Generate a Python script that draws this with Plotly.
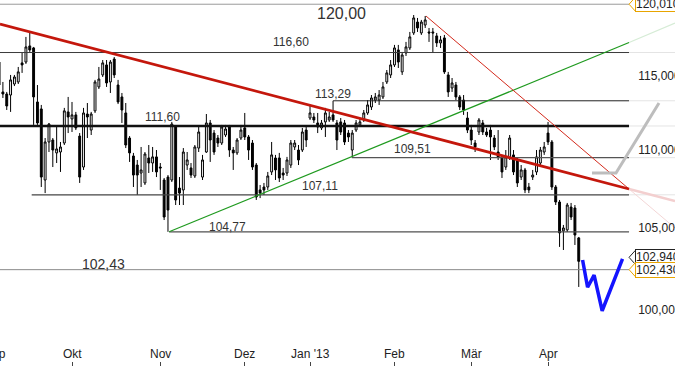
import numpy as np
import pandas as pd
import plotly.graph_objects as go

# ---------------- data ----------------
holidays = ["2012-12-24", "2012-12-25", "2012-12-26", "2012-12-31",
            "2013-01-01", "2013-03-29", "2013-04-01"]
calendar = pd.bdate_range("2012-09-03", "2013-05-31", freq="C", holidays=holidays)

opens = [115.94, 113.89, 113.75, 113.68, 114.43, 114.57, 115.88, 115.94, 117.06, 116.92,
         113.21, 112.74, 108.06, 110.54, 110.67, 109.82, 109.88, 110.47, 112.54, 112.07,
         112.34, 110.93, 108.90, 112.40, 111.33, 112.61, 114.23, 115.05, 115.74, 114.57,
         116.15, 114.36, 113.55, 112.47, 110.80, 109.62, 109.03, 108.51, 107.87, 109.49,
         109.16, 109.56, 108.90, 108.06, 108.25, 108.06, 111.53, 107.54, 107.42, 109.03,
         108.84, 108.32, 110.14, 108.25, 109.88, 111.80, 111.13, 110.80, 110.47, 111.00,
         111.53, 110.01, 109.82, 110.80, 111.47, 110.87, 110.47, 109.03, 107.42, 107.61,
         107.61, 108.58, 109.49, 109.49, 108.51, 108.51, 109.03, 110.21, 110.01, 110.01,
         111.33, 112.13, 112.20, 111.80, 111.47, 111.87, 112.00, 112.34, 111.80, 111.87,
         111.80, 111.13, 110.01, 111.33, 111.67, 112.00, 112.47, 112.87, 113.34, 113.34,
         113.55, 114.57, 115.05, 115.74, 116.78, 115.26, 116.57, 116.92, 117.97, 118.74,
         117.97, 118.53, 118.04, 118.04, 117.76, 117.27, 117.62, 115.05, 114.16, 114.36,
         113.55, 113.34, 112.13, 111.33, 110.47, 111.20, 111.80, 111.20, 111.33, 110.80,
         109.88, 109.49, 108.90, 109.49, 109.69, 109.36, 108.25, 108.71, 107.61, 108.25,
         108.58, 109.16, 109.88, 111.13, 110.54, 107.61, 106.65, 104.83, 104.89, 106.33,
         106.27, 104.39]
highs = [116.43, 114.57, 113.89, 115.05, 115.05, 115.60, 116.57, 117.69, 117.97, 116.99,
         114.36, 113.01, 110.80, 111.80, 110.80, 111.53, 110.54, 112.81, 113.55, 113.21,
         112.54, 111.13, 112.81, 113.14, 112.54, 114.71, 115.60, 116.08, 116.08, 116.08,
         116.29, 114.71, 113.82, 113.14, 110.93, 109.82, 109.36, 110.21, 109.88, 110.34,
         110.21, 110.01, 109.16, 108.19, 108.38, 111.87, 111.60, 108.25, 110.14, 109.88,
         109.16, 110.34, 111.53, 109.69, 112.40, 112.00, 111.33, 111.00, 111.67, 111.67,
         111.67, 110.21, 110.80, 111.67, 112.47, 111.00, 110.67, 109.16, 107.74, 107.87,
         108.58, 110.54, 109.69, 109.82, 108.84, 109.56, 110.67, 110.67, 110.34, 111.47,
         111.53, 113.01, 112.47, 112.47, 112.00, 112.81, 112.54, 113.29, 112.00, 112.13,
         112.00, 111.33, 111.33, 112.00, 112.13, 112.67, 113.34, 113.68, 113.82, 114.02,
         114.57, 115.39, 116.08, 117.13, 117.13, 116.64, 117.34, 118.04, 119.24, 119.03,
         118.89, 119.17, 118.32, 118.32, 117.97, 117.76, 117.83, 115.26, 114.84, 114.57,
         113.68, 113.68, 112.54, 111.67, 110.67, 112.13, 112.00, 111.47, 111.67, 111.00,
         111.33, 109.69, 110.01, 111.00, 110.01, 109.49, 109.03, 108.84, 107.87, 108.71,
         110.01, 110.21, 110.54, 111.87, 110.67, 107.74, 106.78, 105.20, 106.59, 106.59,
         106.46, 104.45]
lows = [114.16, 113.48, 112.67, 112.54, 114.29, 114.43, 115.19, 115.81, 116.64, 111.67,
        111.67, 107.61, 107.22, 109.88, 108.90, 109.16, 108.58, 110.34, 111.13, 111.20,
        111.33, 107.87, 108.71, 110.80, 111.00, 112.47, 114.09, 114.91, 114.23, 113.82,
        114.84, 113.07, 111.80, 110.14, 109.23, 107.61, 107.10, 107.61, 107.74, 108.51,
        108.58, 108.25, 107.42, 105.51, 104.77, 107.93, 106.46, 106.46, 106.46, 108.71,
        108.19, 108.19, 109.88, 108.06, 109.82, 109.23, 109.69, 110.21, 110.34, 110.87,
        109.56, 108.71, 109.69, 110.67, 110.67, 109.36, 108.71, 106.78, 106.90, 107.10,
        107.42, 108.38, 108.06, 107.93, 108.06, 108.32, 108.84, 110.01, 109.03, 109.88,
        110.21, 112.00, 111.80, 111.13, 111.33, 110.87, 111.87, 111.87, 110.01, 111.00,
        110.34, 110.54, 109.51, 111.20, 111.53, 111.87, 112.34, 112.67, 113.14, 113.01,
        113.41, 114.43, 114.84, 115.60, 115.53, 115.05, 116.36, 116.78, 117.83, 118.04,
        117.83, 118.32, 117.34, 116.57, 116.99, 116.92, 115.12, 113.55, 113.89, 113.34,
        112.67, 112.34, 111.13, 110.34, 109.88, 111.00, 111.00, 110.87, 109.36, 110.01,
        109.36, 108.19, 108.71, 109.36, 108.38, 107.61, 108.06, 107.22, 107.22, 108.06,
        108.38, 109.03, 109.69, 110.34, 107.42, 106.46, 103.83, 103.64, 104.76, 105.51,
        103.95, 101.38]
closes = [114.36, 113.75, 112.94, 114.71, 114.91, 115.26, 115.74, 116.99, 116.78, 113.55,
          111.80, 108.25, 110.54, 111.73, 110.01, 110.08, 110.21, 112.61, 112.20, 112.34,
          111.47, 108.25, 112.47, 112.20, 112.40, 114.57, 114.77, 115.88, 114.50, 115.94,
          115.05, 113.21, 112.67, 110.34, 109.82, 108.38, 108.38, 108.71, 109.75, 109.16,
          109.56, 108.58, 108.84, 105.70, 106.14, 111.73, 106.78, 107.22, 109.88, 109.36,
          108.38, 110.21, 111.20, 109.36, 111.80, 110.67, 109.88, 110.47, 111.53, 111.40,
          110.01, 109.82, 110.67, 111.33, 110.87, 110.01, 108.90, 106.97, 107.22, 107.42,
          108.32, 109.69, 108.71, 108.19, 108.38, 109.36, 110.47, 110.47, 109.36, 111.20,
          110.67, 112.47, 112.00, 111.53, 111.80, 112.47, 112.20, 112.00, 110.67, 111.20,
          110.54, 110.87, 111.13, 111.80, 111.87, 112.47, 113.01, 113.48, 113.55, 113.68,
          114.23, 115.19, 115.74, 116.92, 115.94, 116.43, 116.99, 117.69, 119.03, 118.32,
          118.74, 118.89, 117.97, 117.97, 117.27, 117.48, 115.26, 113.89, 114.50, 113.55,
          112.87, 112.67, 111.33, 110.67, 110.21, 112.00, 111.20, 111.00, 110.87, 110.21,
          109.56, 108.58, 109.56, 110.80, 108.58, 107.87, 108.71, 107.42, 107.42, 108.38,
          109.56, 110.01, 110.21, 110.54, 107.61, 106.65, 104.70, 105.01, 106.46, 105.70,
          104.57, 102.94]

month_labels = ["Sep", "Okt", "Nov", "Dez", "Jan '13", "Feb", "Mär", "Apr"]
ytick_values = [100, 105, 110, 115]

# horizontal support / resistance levels (price, start position in trading days)
levels = [120.01, 116.60, 113.29, 111.60, 109.51, 107.11, 104.77, 102.43]
level_start = [None, None, 88.0, None, 92.9, 9.5, 45.3, None]
level_text = ["", "116,60", "113,29", "111,60", "109,51", "107,11", "104,77", "102,43"]
level_text_x = [None, 77.1, 88.0, 43.7, 108.6, 84.6, 60.4, 28.1]

# trend lines: (x0, p0, x1, p1) in trading-day positions / prices
trend_main_red = [1.245, 118.60, 165.1, 107.48]
trend_thin_red = [112.2, 119.17, 165.1, 107.48]
trend_green = [45.3, 104.77, 165.1, 117.30]
ext_main_red = 106.71
ext_thin_red = 105.01
ext_green = 118.67

# projections
proj_blue_x = [153.0, 154.3, 156.0, 158.1, 163.4]
proj_blue_y = [103.02, 101.36, 102.10, 99.95, 103.09]
proj_grey_x = [155.45, 161.7, 172.9]
proj_grey_y = [108.51, 108.51, 113.14]

# price tags on the right
tags = [(102.94, "102,940", "#222222", 4), (102.43, "102,430", "#e8a400", 0),
        (120.01, "120,010", "#e8a400", 0)]

# ---------------- layout constants ----------------
n = len(opens)
xpos = list(range(1, n + 1))          # calendar position (Sep 3 2012 = 0)
cal_pos = pd.Series(range(len(calendar)), index=calendar)
month_pos = cal_pos.groupby([calendar.year, calendar.month]).first().values[:len(month_labels)]

W, H = 675, 370
MB = 9
PLOT_H = H - MB
X0, X1 = 1.245, 177.07
Y0, Y1 = 1.98676, 2.08031
LINE_END = 165.1
PX_PER_LN = PLOT_H / ((Y1 - Y0) * np.log(10))
PX_PER_DAY = W / (X1 - X0)
FONT = "Liberation Sans, Arial, sans-serif"

fig = go.Figure()


def line(xs, ys, color, width, dash=None):
    fig.add_trace(go.Scatter(x=xs, y=ys, mode="lines",
                             line=dict(color=color, width=width, dash=dash),
                             hoverinfo="skip", showlegend=False))


level_colors = ["#9a9a9a", "#3a3a3a", "#222222", "#111111", "#555555", "#444444", "#505050", "#8a8a8a"]
level_widths = [1, 1, 1, 2.6, 1.2, 1.2, 1.3, 1]
for p, xs, col, w in zip(levels, level_start, level_colors, level_widths):
    line([X0 if xs is None else xs, LINE_END], [p, p], col, w)
for p in [116.60, 113.29, 111.60, 109.51, 107.11]:
    line([LINE_END, X1], [p, p], "#e4e4e4", 1)

fig.add_trace(go.Candlestick(
    x=xpos, open=opens, high=highs, low=lows, close=closes,
    increasing=dict(line=dict(color="black", width=1), fillcolor="white"),
    decreasing=dict(line=dict(color="black", width=1), fillcolor="black"),
    whiskerwidth=0, showlegend=False, hoverinfo="skip"))

# trend lines and faded continuations
line([trend_main_red[2], X1], [trend_main_red[3], ext_main_red], "#f3cfcf", 2.4)
line([trend_thin_red[2], X1], [trend_thin_red[3], ext_thin_red], "#f3d6d6", 1)
line([trend_green[2], X1], [trend_green[3], ext_green], "#d6ecd6", 1.2)
line(trend_green[0::2], trend_green[1::2], "#1f9a1f", 1.2)
line(trend_thin_red[0::2], trend_thin_red[1::2], "#d42a1c", 1)
line(trend_main_red[0::2], trend_main_red[1::2], "#c4170c", 2.8)

line(proj_grey_x, proj_grey_y, "#bdbdbd", 3)
line(proj_blue_x, proj_blue_y, "#1414ff", 3.5)

# tag chevrons
TAG_X = 166.75
f = np.exp(7 / PX_PER_LN)
for p, txt, col, shift in tags:
    c = p * np.exp(shift / PX_PER_LN)
    line([TAG_X, LINE_END, TAG_X], [c * f, c, c / f], col, 1)

annotations = []
for p, txt, tx in zip(levels, level_text, level_text_x):
    if not txt:
        continue
    big = txt == "102,43"
    off = {"116,60": 11, "113,29": 7, "111,60": 8.5, "109,51": 8.5,
           "107,11": 9, "104,77": 5, "102,43": 6}[txt]
    annotations.append(dict(x=tx, y=np.log10(p), xref="x", yref="y", text=txt,
                            showarrow=False, yanchor="middle", yshift=off,
                            font=dict(family=FONT, size=14 if big else 12, color="#333333")))
annotations.append(dict(x=90.1, y=np.log10(120.0), xref="x", yref="y", text="120,00",
                        showarrow=False, yanchor="middle", yshift=-9,
                        font=dict(family=FONT, size=16, color="#333333")))

for p, txt, col, shift in tags:
    annotations.append(dict(x=TAG_X, y=np.log10(p), xref="x", yref="y", text=txt,
                            showarrow=False, xanchor="left", yanchor="middle", yshift=shift,
                            bgcolor="white", bordercolor=col, borderwidth=1, borderpad=0,
                            font=dict(family=FONT, size=12, color="#222222")))

for lab, mp in zip(month_labels, month_pos):
    ax_x = max(mp, X0)
    annotations.append(dict(x=ax_x, xshift=(mp - ax_x) * PX_PER_DAY, y=0,
                            xref="x", yref="paper",
                            text=lab, showarrow=False, yanchor="middle", yshift=7,
                            font=dict(family=FONT, size=12, color="#222222")))

fig.update_layout(
    width=W, height=H, margin=dict(l=0, r=0, t=0, b=MB, autoexpand=False),
    paper_bgcolor="white", plot_bgcolor="white", showlegend=False,
    separators=",.",
    annotations=annotations,
    xaxis=dict(range=[X0, X1], showgrid=False, zeroline=False, showline=False,
               automargin=False,
               rangeslider=dict(visible=False), tickvals=list(month_pos[1:]),
               ticks="outside", ticklen=4, tickcolor="#444444", showticklabels=False),
    yaxis=dict(type="log", range=[Y0, Y1], side="right", anchor="free", position=0.944,
               automargin=False,
               tickvals=ytick_values, tickformat=".3f", showgrid=False, zeroline=False,
               showline=False, ticks="",
               tickfont=dict(family=FONT, size=12, color="#222222")),
)

fig.write_html("out.html", config={"displayModeBar": False},
               post_script="document.body.style.margin='0px';document.body.style.overflow='hidden';")
